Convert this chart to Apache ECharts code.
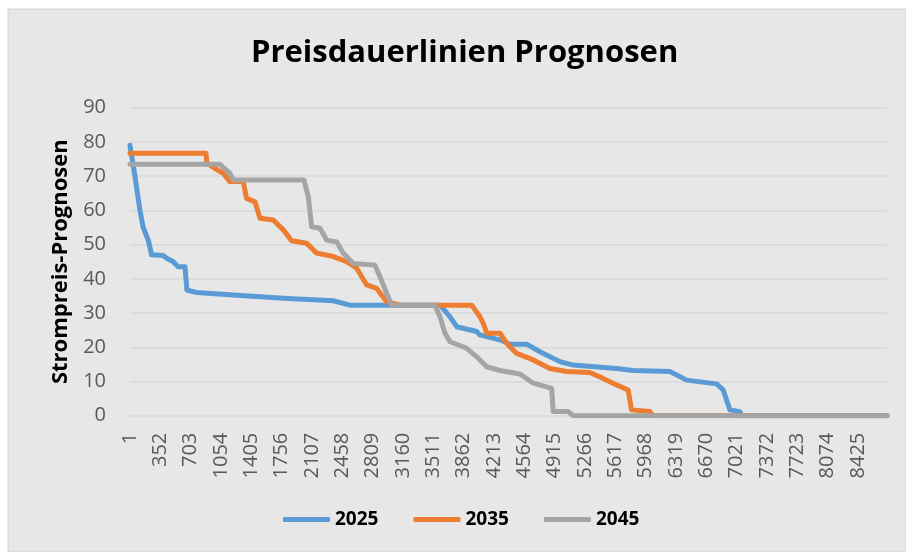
<!DOCTYPE html>
<html>
<head>
<meta charset="utf-8">
<script src="https://cdn.jsdelivr.net/npm/echarts@6/dist/echarts.min.js"></script>
<style>
  html, body { margin: 0; padding: 0; background: #fff; }
  #chart { width: 906px; height: 552px; }
</style>
</head>
<body>
<div id="chart"></div>
<script>
// x tick labels (hours)
var xTicks = [1, 352, 703, 1054, 1405, 1756, 2107, 2458, 2809, 3160, 3511, 3862, 4213,
    4564, 4915, 5266, 5617, 5968, 6319, 6670, 7021, 7372, 7723, 8074, 8425];

// 2025
var hours2025 = [1, 20, 58, 116, 154, 212, 251, 385, 425, 501, 559, 637, 660, 772, 1196,
    1775, 2353, 2546, 3588, 3704, 3781, 4012, 4050, 4300, 4397, 4590, 4744, 4975, 5129,
    5631, 5824, 6248, 6441, 6788, 6865, 6942, 7058, 7081, 8760];
var vals2025 = [79, 76, 70, 60, 55, 51.3, 47, 46.8, 46, 45, 43.5, 43.5, 36.7, 36, 35.3,
    34.3, 33.6, 32.3, 32.3, 28.9, 26, 24.6, 23.6, 22, 20.9, 20.9, 18.7, 15.8, 14.8,
    13.8, 13.2, 12.9, 10.4, 9.3, 7.5, 1.7, 1.2, 0, 0];

// 2035
var hours2035 = [1, 880, 890, 984, 1080, 1157, 1311, 1350, 1447, 1505, 1659, 1775, 1871,
    2045, 2161, 2354, 2508, 2624, 2740, 2856, 2971, 3125, 3955, 4050, 4089, 4128, 4282,
    4359, 4475, 4667, 4860, 5053, 5322, 5476, 5631, 5765, 5804, 6017, 6050, 8760];
var vals2035 = [76.7, 76.7, 73.8, 72.3, 70.8, 68.4, 68.4, 63.5, 62.5, 57.7, 57.2, 54.3, 51.1,
    50.4, 47.5, 46.5, 45, 43.1, 38.2, 37.2, 33.3, 32.3, 32.3, 28.9, 27, 24.1, 24.1,
    21.2, 18.2, 16.3, 13.8, 12.9, 12.6, 10.9, 9.0, 7.5, 1.7, 1.2, 0, 0];

// 2045
var hours2045 = [1, 1042, 1070, 1157, 1196, 2014, 2064, 2103, 2200, 2277, 2392, 2469, 2585,
    2835, 2893, 2971, 3029, 3530, 3588, 3646, 3704, 3897, 4012, 4128, 4282, 4513, 4667,
    4880, 4898, 5072, 5130, 8760];
var vals2045 = [73.5, 73.5, 72.8, 70.8, 68.9, 68.9, 64, 55.2, 54.8, 51.3, 50.8, 47.5, 44.5,
    44, 40.6, 35.8, 32.3, 32.3, 28.9, 24.1, 21.6, 19.7, 17.2, 14.3, 13.2, 12.2, 9.5,
    8.0, 1.2, 1.2, 0, 0];

function pairs(h, v) {
    var out = [];
    for (var i = 0; i < h.length; i++) out.push([h[i], v[i]]);
    return out;
}

function lineSeries(name, color, h, v) {
    return {
        name: name,
        type: 'line',
        data: pairs(h, v),
        showSymbol: false,
        symbol: 'none',
        lineStyle: { color: color, width: 5, cap: 'round', join: 'round' },
        itemStyle: { color: color },
        animation: false
    };
}

var chart = echarts.init(document.getElementById('chart'));
var options = {
    backgroundColor: '#ffffff',
    animation: false,
    graphic: [{
        type: 'rect',
        z: -10,
        shape: { x: 8, y: 9, width: 898, height: 543 },
        style: { fill: '#e7e7e7', stroke: '#d4d4d4', lineWidth: 1 }
    }],
    title: {
        text: 'Preisdauerlinien Prognosen',
        left: 251,
        top: 38,
        padding: 0,
        textStyle: { fontFamily: 'Open Sans', fontWeight: 'bold', fontSize: 31, color: '#000' }
    },
    legend: {
        left: 283,
        top: 510,
        padding: 0,
        itemWidth: 47,
        itemHeight: 5,
        itemGap: 35,
        icon: 'roundRect',
        textStyle: { fontFamily: 'Open Sans', fontWeight: 'bold', fontSize: 19, color: '#000' },
        data: ['2025', '2035', '2045']
    },
    grid: { left: 130, right: 19, top: 107.7, bottom: 136.3 },
    xAxis: {
        type: 'value',
        min: 1,
        max: 8760,
        axisLine: { show: false },
        axisTick: { show: false },
        splitLine: { show: false },
        axisLabel: {
            customValues: xTicks,
            formatter: function (v) { return String(v); },
            rotate: 90,
            margin: 17,
            fontFamily: 'Open Sans',
            fontSize: 20,
            color: '#595959'
        }
    },
    yAxis: {
        type: 'value',
        min: 0,
        max: 90,
        interval: 10,
        name: 'Strompreis-Prognosen',
        nameLocation: 'middle',
        nameGap: 58,
        nameTextStyle: { fontFamily: 'Open Sans', fontWeight: 'bold', fontSize: 22, color: '#000' },
        axisLine: { show: false },
        axisTick: { show: false },
        splitLine: { lineStyle: { color: '#d9d9d9', width: 1.5 } },
        axisLabel: { margin: 24, fontFamily: 'Open Sans', fontSize: 20, color: '#595959' }
    },
    series: [
        lineSeries('2025', '#5b9bd5', hours2025, vals2025),
        lineSeries('2035', '#ed7d31', hours2035, vals2035),
        lineSeries('2045', '#a5a5a5', hours2045, vals2045)
    ]
};
chart.setOption(options);
</script>
</body>
</html>
